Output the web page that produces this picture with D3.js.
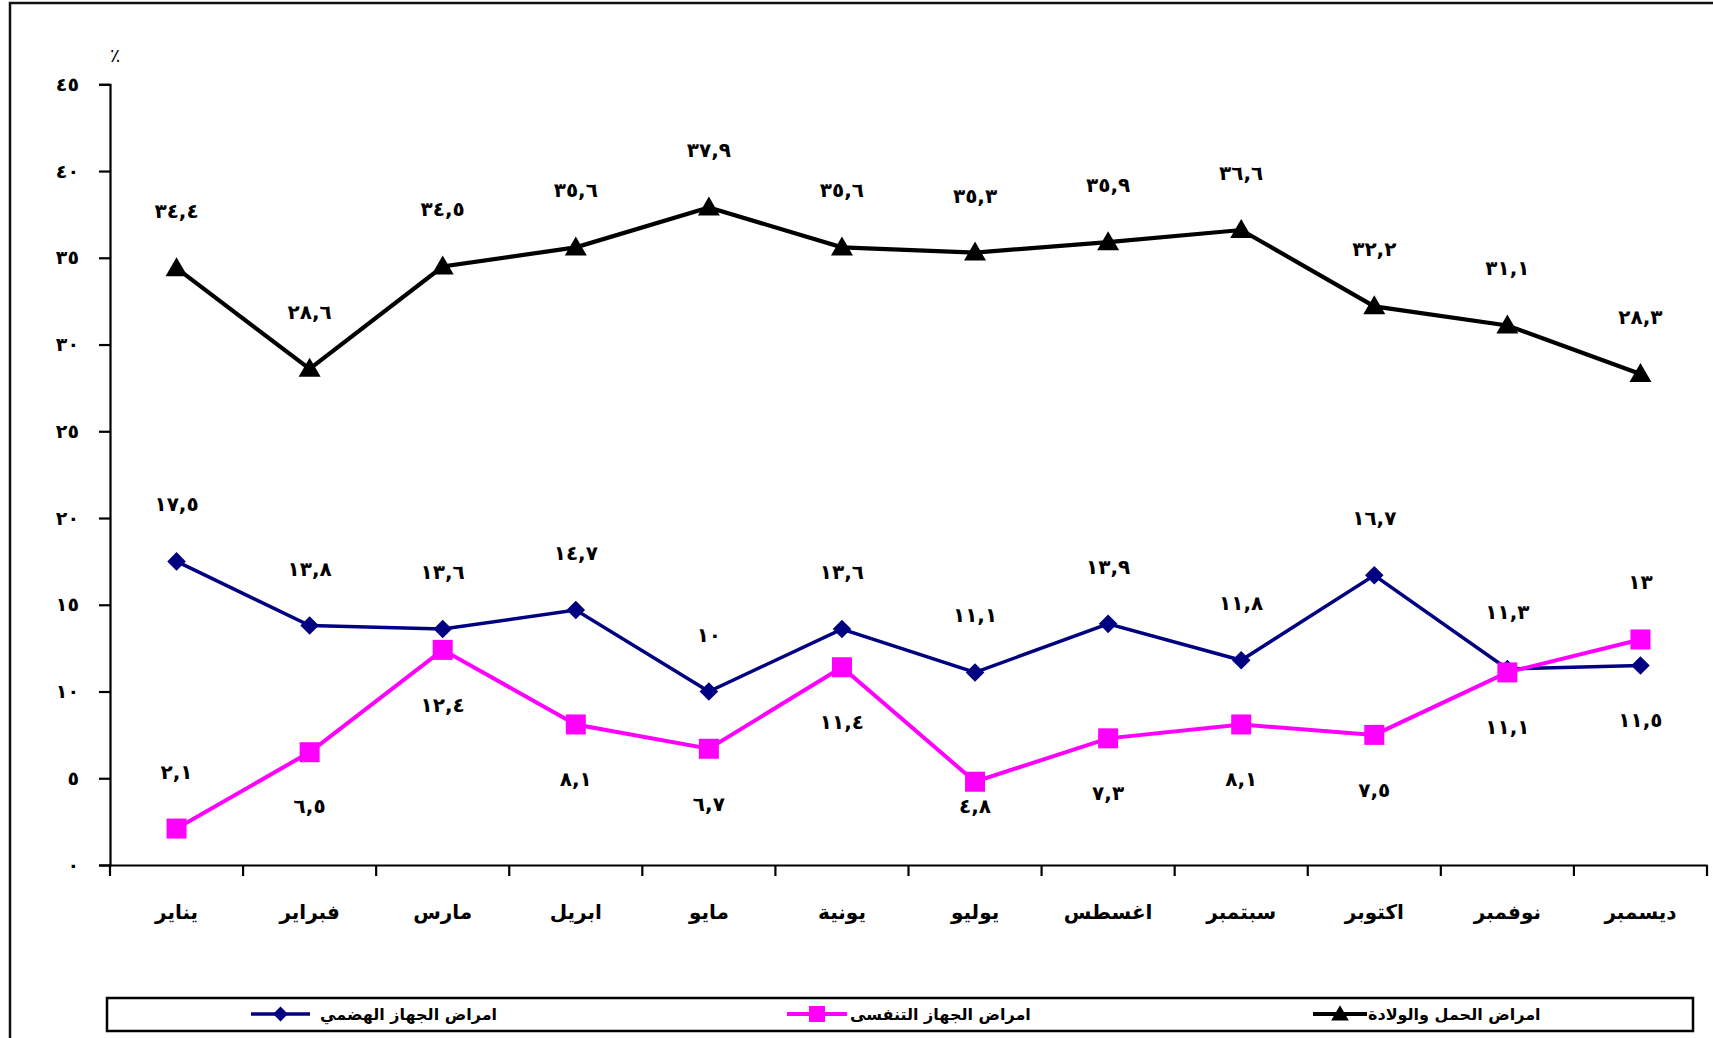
<!DOCTYPE html>
<html><head><meta charset="utf-8">
<script src="https://cdn.jsdelivr.net/npm/d3@7"></script>
<style>
html,body{margin:0;padding:0;background:#fff;}
svg{display:block;}
</style>
</head><body>
<svg id="chart" width="1713" height="1038"></svg>
<script>
const months = ["يناير","فبراير","مارس","ابريل","مايو","يونية","يوليو","اغسطس","سبتمبر","اكتوبر","نوفمبر","ديسمبر"];
const digestive = [17.5,13.8,13.6,14.7,10,13.6,11.1,13.9,11.8,16.7,11.3,11.5];
const respiratory = [2.1,6.5,12.4,8.1,6.7,11.4,4.8,7.3,8.1,7.5,11.1,13];
const pregnancy = [34.4,28.6,34.5,35.6,37.9,35.6,35.3,35.9,36.6,32.2,31.1,28.3];
const yTicks = [0,5,10,15,20,25,30,35,40,45];
const seriesNames = ["امراض الجهاز الهضمي","امراض الجهاز التنفسى","امراض الحمل والولادة"];
const unitLabel = "٪";

(function(){
const arabicDigits = "٠١٢٣٤٥٦٧٨٩";
function toAr(v){ return String(v).replace(".", ",").replace(/[0-9]/g, d => arabicDigits[+d]); }

const svg = d3.select("#chart");
const W = 1713, H = 1038;
const pLeft = 110, pRight = 1707, pTop = 84.3, pBottom = 865;

svg.append("rect").attr("x",10).attr("y",3).attr("width",W+20).attr("height",H+20)
  .attr("fill","none").attr("stroke","#111").attr("stroke-width",2.5);

const x = d3.scaleBand().domain(months).range([pLeft,pRight]).paddingInner(0).paddingOuter(0);
const y = d3.scaleLinear().domain([0,45]).range([pBottom,pTop]);
const cx = m => x(m) + x.bandwidth()/2;

const numFont = "'DejaVu Sans', sans-serif";

const yAxis = svg.append("g").attr("transform",`translate(${pLeft},0)`)
  .call(d3.axisLeft(y).tickValues(yTicks).tickSize(11).tickPadding(20).tickFormat(d => toAr(d)));
yAxis.select(".domain").attr("stroke","#000").attr("stroke-width",2.2);
yAxis.selectAll(".tick line").attr("stroke","#000").attr("stroke-width",2.2);
yAxis.selectAll(".tick text").attr("font-family",numFont).attr("font-weight","bold")
  .attr("font-size",19).attr("fill","#000").style("letter-spacing","6px");

const xAxis = svg.append("g").attr("transform",`translate(0,${pBottom})`)
  .call(d3.axisBottom(x).tickSize(0).tickPadding(40));
xAxis.select(".domain").attr("stroke","#000").attr("stroke-width",2.2);
xAxis.selectAll(".tick text").attr("font-family","'DejaVu Sans', sans-serif").attr("font-weight","bold")
  .attr("font-size",20).attr("fill","#000");
const bounds = months.map(m => x(m)).concat([pRight]);
svg.append("g").selectAll("line").data(bounds).join("line")
  .attr("x1",d=>d).attr("x2",d=>d).attr("y1",pBottom).attr("y2",pBottom+11)
  .attr("stroke","#000").attr("stroke-width",2.2);

svg.append("text").attr("x",pLeft+5).attr("y",y(45)-22).attr("text-anchor","middle")
  .attr("font-family",numFont).attr("font-size",19).attr("fill","#000").text(unitLabel);

const series = [
  {name:seriesNames[0], values:digestive, color:"#000080", width:3.5, shape:"diamond"},
  {name:seriesNames[1], values:respiratory, color:"#FF00FF", width:4, shape:"square"},
  {name:seriesNames[2], values:pregnancy, color:"#000000", width:4.2, shape:"triangle"}
];
function markerPath(shape){
  if(shape==="diamond") return d3.symbol(d3.symbolDiamond2, 220)();
  if(shape==="square") return "M-10,-10H10V10H-10Z";
  return "M0,-11L11,8H-11Z";
}
const line = d3.line().x((d,i)=>cx(months[i])).y(d=>y(d));
series.forEach(s=>{
  svg.append("path").datum(s.values).attr("d",line).attr("fill","none")
    .attr("stroke",s.color).attr("stroke-width",s.width).attr("stroke-linejoin","miter");
});
series.forEach(s=>{
  svg.append("g").selectAll("path").data(s.values).join("path")
    .attr("transform",(d,i)=>`translate(${cx(months[i])},${y(d)})`)
    .attr("d",markerPath(s.shape)).attr("fill",s.color);
});

function placeLabel(val, other){
  if (other === null) return "above";
  if (val >= other) return "above";
  return val < 3 ? "above" : "below";
}
series.forEach((s,si)=>{
  const g = svg.append("g");
  s.values.forEach((v,i)=>{
    let other = null;
    if (si===0) other = respiratory[i];
    if (si===1) other = digestive[i];
    const pos = placeLabel(v, other);
    const yy = pos==="above" ? y(v)-50 : Math.min(y(v)+62, pBottom-52);
    g.append("text").attr("x",cx(months[i])).attr("y",yy).attr("text-anchor","middle")
      .attr("font-family",numFont).attr("font-weight","bold").attr("font-size",20)
      .attr("fill","#000").style("letter-spacing","5px").text(toAr(v));
  });
});

const lg = svg.append("g");
lg.append("rect").attr("x",107).attr("y",998).attr("width",1693-107).attr("height",33)
  .attr("fill","#fff").attr("stroke","#000").attr("stroke-width",2.5);
const legendItems = [
  {s:series[0], x1:251, x2:310, tx:320},
  {s:series[1], x1:787, x2:847, tx:850},
  {s:series[2], x1:1313, x2:1367, tx:1368}
];
const ly = 1014;
legendItems.forEach(it=>{
  lg.append("line").attr("x1",it.x1).attr("x2",it.x2).attr("y1",ly).attr("y2",ly)
    .attr("stroke",it.s.color).attr("stroke-width",it.s.width);
  lg.append("path").attr("transform",`translate(${(it.x1+it.x2)/2},${ly}) scale(0.8)`)
    .attr("d",markerPath(it.s.shape)).attr("fill",it.s.color);
  lg.append("text").attr("x",it.tx).attr("y",ly+6).attr("text-anchor","start")
    .attr("font-family","'DejaVu Sans', sans-serif").attr("font-weight","bold").attr("font-size",16)
    .attr("fill","#000").text(it.s.name);
});
})();
</script>
</body></html>
